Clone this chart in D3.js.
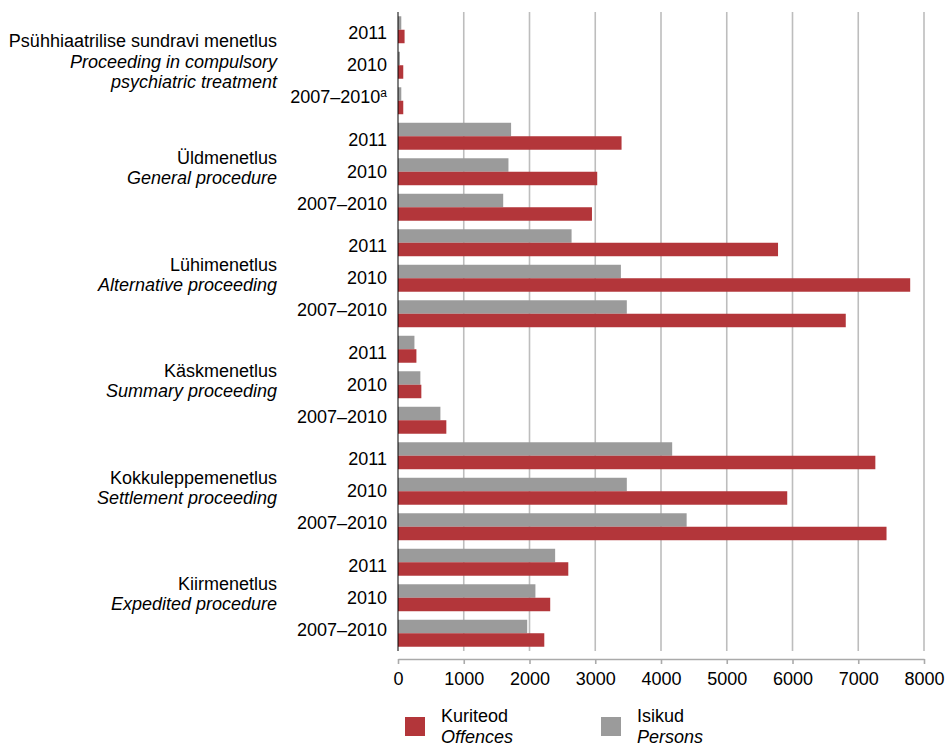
<!DOCTYPE html>
<html>
<head>
<meta charset="utf-8">
<script src="https://cdn.jsdelivr.net/npm/d3@7"></script>
<style>
  html, body { margin: 0; padding: 0; background: #fff; }
  svg { display: block; font-family: "Liberation Sans", Arial, sans-serif; }
</style>
</head>
<body>
<svg id="chart" width="946" height="744"></svg>
<script>
// Procedure types: Estonian name and English translation lines
const groupsEt = ["Psühhiaatrilise sundravi menetlus", "Üldmenetlus", "Lühimenetlus",
                  "Käskmenetlus", "Kokkuleppemenetlus", "Kiirmenetlus"];
const groupsEn = [["Proceeding in compulsory", "psychiatric treatment"], ["General procedure"],
                  ["Alternative proceeding"], ["Summary proceeding"],
                  ["Settlement proceeding"], ["Expedited procedure"]];
const periods = ["2011", "2010", "2007–2010"];
// Offences (Kuriteod) per group, in period order
const offences = [[100, 80, 80], [3400, 3030, 2950], [5780, 7790, 6810],
                  [280, 355, 735], [7260, 5920, 7430], [2590, 2315, 2225]];
// Persons (Isikud) per group, in period order
const persons = [[50, 30, 50], [1720, 1680, 1600], [2640, 3390, 3480],
                 [250, 340, 645], [4170, 3480, 4390], [2390, 2090, 1965]];
const xTicks = [0, 1000, 2000, 3000, 4000, 5000, 6000, 7000, 8000];
const seriesKeys = ["persons", "offences"];
const seriesColor = { offences: "#b3363a", persons: "#9b9b9b" };
const fontSize = 18;

const rows = [];
groupsEt.forEach((g, gi) => periods.forEach((p, pi) => {
  rows.push({ id: gi + "-" + pi, gi, pi, period: p,
              persons: persons[gi][pi], offences: offences[gi][pi],
              note: gi === 0 && pi === 2 ? "a" : "" });
}));

const svg = d3.select("#chart");
const plot = { left: 398, right: 924, top: 12, bottom: 651 };

const x = d3.scaleLinear().domain([0, 8000]).range([plot.left, plot.right]);
const y = d3.scaleBand().domain(rows.map(r => r.id))
  .range([plot.top, plot.bottom]).paddingInner(0.24).paddingOuter(0.12);
const ySub = d3.scaleBand().domain(seriesKeys).range([0, y.bandwidth()]);

// vertical gridlines
svg.append("g").selectAll("line").data(xTicks.filter(d => d > 0)).join("line")
  .attr("x1", d => x(d)).attr("x2", d => x(d))
  .attr("y1", plot.top).attr("y2", plot.bottom)
  .attr("stroke", "#bdbdbd").attr("stroke-width", 1.6);

// bars
const rowG = svg.append("g").selectAll("g").data(rows).join("g")
  .attr("transform", d => `translate(0,${y(d.id)})`);
rowG.selectAll("rect").data(d => seriesKeys.map(k => ({ k, v: d[k] }))).join("rect")
  .attr("x", x(0))
  .attr("y", d => ySub(d.k))
  .attr("width", d => x(d.v) - x(0))
  .attr("height", ySub.bandwidth())
  .attr("fill", d => seriesColor[d.k]);

// category axis line
svg.append("line")
  .attr("x1", x(0)).attr("x2", x(0))
  .attr("y1", plot.top).attr("y2", plot.bottom)
  .attr("stroke", "#000").attr("stroke-width", 1);

// value axis below the plot
const xAxis = svg.append("g").attr("transform", "translate(0,659)")
  .call(d3.axisBottom(x).tickValues(xTicks).tickFormat(d3.format("d"))
    .tickSize(5).tickSizeOuter(0).tickPadding(8));
xAxis.select(".domain").attr("stroke", "#aaa").attr("stroke-width", 1.6);
xAxis.selectAll(".tick line").attr("stroke", "#aaa").attr("stroke-width", 1.6);
xAxis.selectAll(".tick text").attr("font-size", fontSize).attr("fill", "#000")
  .attr("font-family", "Liberation Sans, Arial, sans-serif");

// period labels
const groupCenter = gi => y(gi + "-1") + y.bandwidth() / 2;
const per = svg.append("g").selectAll("text").data(rows).join("text")
  .attr("x", 387)
  .attr("y", d => groupCenter(d.gi) + 6 + (d.pi - 1) * 31.8)
  .attr("text-anchor", "end").attr("font-size", fontSize).attr("fill", "#000")
  .text(d => d.period);
per.filter(d => d.note).append("tspan")
  .attr("font-size", 12).attr("dy", -6).text(d => d.note);

// group labels
groupsEt.forEach((g, gi) => {
  const lines = [{ t: g, it: false }].concat(groupsEn[gi].map(t => ({ t, it: true })));
  const n = lines.length;
  const c = groupCenter(gi) + 2.5;
  svg.append("g").selectAll("text").data(lines).join("text")
    .attr("x", 277)
    .attr("y", (d, i) => c + (i - (n - 1) / 2) * 20.3)
    .attr("text-anchor", "end").attr("font-size", fontSize).attr("fill", "#000")
    .attr("font-style", d => d.it ? "italic" : "normal")
    .text(d => d.t);
});

// legend
const legend = [
  { k: "offences", et: "Kuriteod", en: "Offences", x: 405 },
  { k: "persons", et: "Isikud", en: "Persons", x: 601 }
];
const lg = svg.append("g").selectAll("g").data(legend).join("g")
  .attr("transform", d => `translate(${d.x},717)`);
lg.append("rect").attr("width", 20).attr("height", 19).attr("fill", d => seriesColor[d.k]);
lg.append("text").attr("x", 36).attr("y", 5.3).attr("font-size", fontSize).text(d => d.et);
lg.append("text").attr("x", 36).attr("y", 25.6).attr("font-size", fontSize)
  .attr("font-style", "italic").text(d => d.en);
</script>
</body>
</html>
